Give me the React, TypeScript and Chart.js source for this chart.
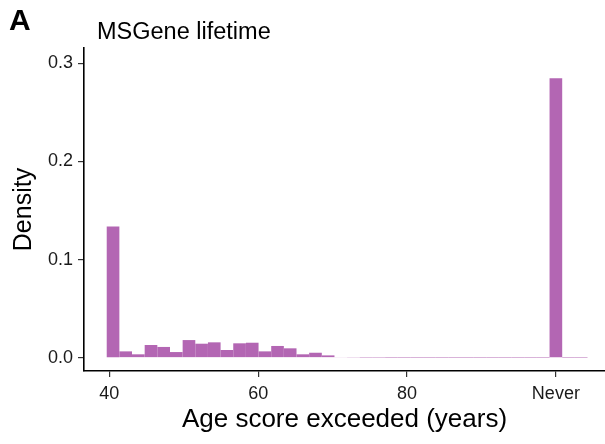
import React, { useEffect, useRef } from "react";
import { Chart, registerables } from "chart.js";

Chart.register(...registerables);

// Histogram bin centres (years); bin at 100 is the "Never" bin
const binCenters = [
  40.5, 42.2, 43.9, 45.6, 47.3, 49.0, 50.7, 52.4, 54.1, 55.8,
  57.5, 59.2, 60.9, 62.6, 64.3, 66.0, 67.7, 69.4, 71.1, 72.8,
  74.5, 76.2, 77.9, 79.6, 81.3, 83.0, 84.7, 86.4, 88.1, 89.8,
  91.5, 93.2, 94.9, 96.6, 98.3, 100.0, 101.7, 103.4,
];
const density = [
  0.1336, 0.0065, 0.0035, 0.013, 0.011, 0.0058, 0.018, 0.0143, 0.0157, 0.0079,
  0.0147, 0.0153, 0.0065, 0.012, 0.0096, 0.0035, 0.0051, 0.0024, 0.0007, 0.0004,
  0.0002, 0.0002, 0.0001, 0.0001, 0.0001, 0.0001, 0.0001, 0.0001, 0.0001, 0.0001,
  0.0001, 0.0001, 0.0001, 0.0001, 0.0001, 0.2847, 0.0001, 0.0001,
];
const xTickValues = [40, 60, 80, 100];
const xTickLabels = ["40", "60", "80", "Never"];
const yTickValues = [0, 0.1, 0.2, 0.3];

const panelLabel = "A";
const chartTitle = "MSGene lifetime";
const xAxisTitle = "Age score exceeded (years)";
const yAxisTitle = "Density";

const FONT = "'Liberation Sans', Arial, Helvetica, sans-serif";

const titlePlugin = {
  id: "panelTitles",
  afterDraw(chart: any) {
    const ctx = chart.ctx;
    const area = chart.chartArea;
    ctx.save();
    ctx.fillStyle = "#000";
    ctx.textBaseline = "alphabetic";
    ctx.textAlign = "left";
    ctx.font = `bold 30px ${FONT}`;
    ctx.fillText(panelLabel, 9, 30);
    ctx.font = `23.5px ${FONT}`;
    ctx.fillText(chartTitle, 97, 39);
    ctx.font = `26px ${FONT}`;
    ctx.textAlign = "center";
    ctx.textBaseline = "middle";
    ctx.fillText(xAxisTitle, (area.left + area.right) / 2, 420);
    ctx.restore();
  },
};

export default function App() {
  const ref = useRef<HTMLCanvasElement | null>(null);

  useEffect(() => {
    document.body.style.margin = "0";
    const canvas = ref.current;
    if (!canvas) return;
    const chart = new Chart(canvas, {
      type: "bar",
      data: {
        datasets: [
          {
            data: binCenters.map((x, i) => ({ x, y: density[i] })),
            backgroundColor: "#b366b3",
            borderWidth: 0,
            inflateAmount: 0,
            barPercentage: 1,
            categoryPercentage: 1,
          },
        ],
      },
      options: {
        animation: false,
        responsive: false,
        devicePixelRatio: 1,
        layout: { padding: { top: 48, right: 0, left: 9, bottom: 33 } },
        plugins: {
          legend: { display: false },
          tooltip: { enabled: false },
          title: { display: false },
        },
        scales: {
          x: {
            type: "linear",
            min: 36.6,
            max: 106.6,
            offset: false,
            afterBuildTicks: (s: any) => {
              s.ticks = xTickValues.map((v) => ({ value: v }));
            },
            ticks: {
              autoSkip: false,
              maxRotation: 0,
              padding: 8,
              color: "#1a1a1a",
              font: { family: FONT, size: 18, lineHeight: 1 },
              callback: (v: any) => {
                const i = xTickValues.indexOf(Number(v));
                return i >= 0 ? xTickLabels[i] : "";
              },
            },
            grid: {
              offset: false,
              drawOnChartArea: false,
              drawTicks: true,
              tickLength: 6,
              color: "#333",
              lineWidth: 1.2,
            },
            border: { display: true, color: "#000", width: 1.6 },
            title: { display: false, text: xAxisTitle },
          },
          y: {
            type: "linear",
            min: -0.0135,
            max: 0.3155,
            afterBuildTicks: (s: any) => {
              s.ticks = yTickValues.map((v) => ({ value: v }));
            },
            ticks: {
              padding: 5,
              color: "#1a1a1a",
              font: { family: FONT, size: 18 },
              callback: (v: any) => Number(v).toFixed(1),
            },
            grid: {
              drawOnChartArea: false,
              drawTicks: true,
              tickLength: 6,
              color: "#333",
              lineWidth: 1.2,
            },
            border: { display: true, color: "#000", width: 1.6 },
            title: {
              display: true,
              text: yAxisTitle,
              color: "#000",
              font: { family: FONT, size: 25 },
              padding: { top: 0, bottom: 4 },
            },
          },
        },
      },
      plugins: [titlePlugin],
    } as any);
    return () => chart.destroy();
  }, []);

  return (
    <div style={{ width: 605, height: 444, position: "relative" }}>
      <canvas ref={ref} width={605} height={444} style={{ width: 605, height: 444 }} />
    </div>
  );
}
